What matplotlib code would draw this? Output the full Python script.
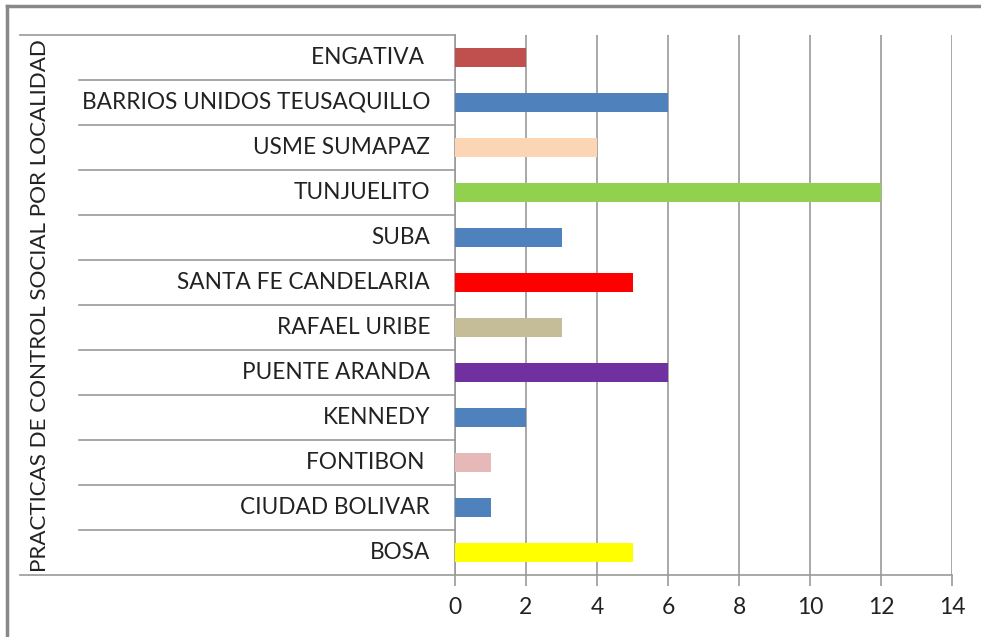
import matplotlib.pyplot as plt
import numpy as np

# categories listed bottom -> top
localidades = ['BOSA', 'CIUDAD BOLIVAR', 'FONTIBON ', 'KENNEDY', 'PUENTE ARANDA',
               'RAFAEL URIBE', 'SANTA FE CANDELARIA', 'SUBA', 'TUNJUELITO',
               'USME SUMAPAZ', 'BARRIOS UNIDOS TEUSAQUILLO', 'ENGATIVA ']
practicas = [5, 1, 1, 2, 6, 3, 5, 3, 12, 4, 6, 2]
colores = ['#FFFF00', '#4F81BD', '#E6B9B8', '#4F81BD', '#7030A0', '#C4BD97',
           '#FF0000', '#4F81BD', '#92D050', '#FCD5B5', '#4F81BD', '#C0504D']
x_ticks = [0, 2, 4, 6, 8, 10, 12, 14]

plt.rcParams['font.family'] = ['Lato', 'DejaVu Sans']

W, H = 981, 637
fig = plt.figure(figsize=(W / 100, H / 100), dpi=100)
ax = fig.add_axes([455 / W, 1 - 575 / H, (952 - 455) / W, (575 - 35) / H])

y = np.arange(len(localidades))
ax.barh(y, practicas, height=0.44, color=colores, zorder=3)
ax.set_xlim(0, 14)
ax.set_ylim(-0.5, len(localidades) - 0.5)
ax.set_xticks(x_ticks)
ax.set_xticklabels([str(t) for t in x_ticks], fontsize=16.5, color='#222222')
ax.set_yticks([])
ax.grid(axis='x', color='#999999', linewidth=1.2, zorder=0)
for s in ['top', 'right']:
    ax.spines[s].set_visible(False)
for s in ['left', 'bottom']:
    ax.spines[s].set_color('#999999')
    ax.spines[s].set_linewidth(1.2)
ax.tick_params(axis='x', length=8, width=1.2, color='#999999', pad=8)

# table of category labels to the left of the axis
gc = '#999999'
x_lbl = (79 - 455) / 497
x_out = (20 - 455) / 497
tr = ax.get_yaxis_transform()
for i, name in enumerate(localidades):
    ax.text(-0.05, i, name, transform=tr, ha='right', va='center',
            fontsize=16.3, color='#222222')
for i in range(len(localidades) - 1):
    ax.plot([x_lbl, 0], [i + 0.5, i + 0.5], transform=tr, color=gc,
            linewidth=1.2, clip_on=False)
top = len(localidades) - 0.5
ax.plot([x_out, 0], [top, top], transform=tr, color=gc, linewidth=1.2, clip_on=False)
ax.plot([x_out, 0], [-0.5, -0.5], transform=tr, color=gc, linewidth=1.2, clip_on=False)

fig.text(40 / W, 1 - 306 / H, 'PRACTICAS DE CONTROL SOCIAL POR LOCALIDAD',
         rotation=90, ha='center', va='center', fontsize=16.1, color='#222222')

# outer frame (top and left edges visible)
fig.add_artist(plt.Line2D([7 / W, 1], [1 - 6 / H, 1 - 6 / H], color='#888888', linewidth=2.5))
fig.add_artist(plt.Line2D([7 / W, 7 / W], [0, 1 - 6 / H], color='#888888', linewidth=2.5))

fig.savefig('out.png', dpi=100)
